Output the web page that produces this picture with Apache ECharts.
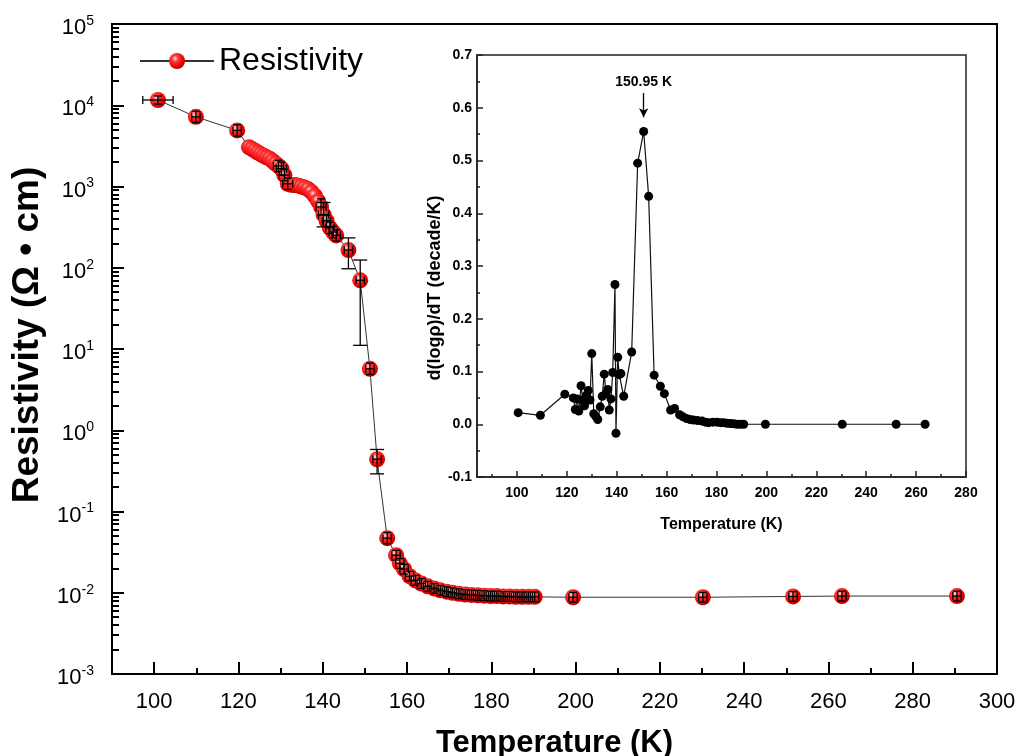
<!DOCTYPE html>
<html><head><meta charset="utf-8">
<script src="https://cdn.jsdelivr.net/npm/echarts@6/dist/echarts.min.js"></script>
<style>html,body{margin:0;padding:0;background:#fff}#c{width:1021px;height:756px}</style>
</head><body><div id="c"></div>
<script>
// ---- main plot data: temperature (K) and resistivity (Ohm cm)
const temps = [100.9, 109.9, 119.7,
  122.5, 123.2, 123.9, 124.6, 125.3, 126.0, 126.7, 127.4, 128.1, 128.8,
  129.5, 130.2, 130.9, 131.7,
  132.5, 133.3, 134.1, 134.9, 135.7, 136.5, 137.3, 138.1, 138.9,
  139.6, 140.2, 140.9, 141.7, 142.5, 143.2,
  146.1, 148.9, 151.2, 152.9, 155.3,
  157.4, 158.3, 159.3, 160.6, 162.0, 163.4, 164.9, 166.4, 167.9, 169.4, 170.8, 172.3,
  173.8, 175.3, 176.8, 178.3, 179.8, 181.3, 182.8, 184.3, 185.8, 187.3, 188.8, 190.3,
  199.4, 230.2, 251.6, 263.2, 290.5];
const rho = [11600, 7200, 4900,
  3050, 2900, 2760, 2620, 2500, 2390, 2290, 2200, 2060, 1920,
  1790, 1660, 1380, 1080,
  1050, 1040, 1030, 1000, 970, 930, 860, 770, 660,
  560, 450, 380, 310, 275, 250,
  165, 70, 5.7, 0.44, 0.047,
  0.029, 0.023, 0.0195, 0.0160, 0.0142, 0.0130, 0.0120, 0.0113, 0.0107, 0.0103, 0.0100, 0.0097,
  0.0095, 0.0094, 0.0093, 0.0092, 0.0091, 0.0091, 0.0090, 0.0090, 0.0089, 0.0089, 0.0089, 0.0089,
  0.0088, 0.0088, 0.0090, 0.0091, 0.0091];
// error bars: temperature error (K), lower / upper error in decades
const tErr = [3.6, 1.0, 1.0,
  0, 0, 0, 0, 0, 0, 0, 0, 0, 0,
  1.2, 1.2, 1.2, 1.2,
  0, 0, 0, 0, 0, 0, 0, 0, 0,
  1.2, 1.2, 1.0, 1.0, 1.0, 1.0,
  1.0, 1.0, 1.0, 1.0, 1.0,
  1.0, 1.0, 1.0, 1.0, 1.0, 1.0, 1.0, 1.0, 1.0, 1.0, 1.0, 1.0,
  1.0, 1.0, 1.0, 1.0, 1.0, 1.0, 1.0, 1.0, 1.0, 1.0, 1.0, 1.0,
  1.0, 1.0, 1.0, 1.0, 1.0];
const errLoDec = [0.05, 0.07, 0.07,
  0, 0, 0, 0, 0, 0, 0, 0, 0, 0,
  0.07, 0.08, 0.07, 0.07,
  0, 0, 0, 0, 0, 0, 0, 0, 0,
  0.10, 0.15, 0.07, 0.07, 0.07, 0.07,
  0.23, 0.80, 0.07, 0.18, 0.07,
  0.06, 0.06, 0.06, 0.06, 0.06, 0.06, 0.06, 0.06, 0.06, 0.06, 0.06, 0.06,
  0.06, 0.06, 0.06, 0.06, 0.06, 0.06, 0.06, 0.06, 0.06, 0.06, 0.06, 0.06,
  0.06, 0.06, 0.06, 0.06, 0.06];
const errHiDec = [0.05, 0.07, 0.07,
  0, 0, 0, 0, 0, 0, 0, 0, 0, 0,
  0.07, 0.08, 0.07, 0.07,
  0, 0, 0, 0, 0, 0, 0, 0, 0,
  0.10, 0.15, 0.07, 0.07, 0.07, 0.07,
  0.15, 0.25, 0.07, 0.12, 0.07,
  0.06, 0.06, 0.06, 0.06, 0.06, 0.06, 0.06, 0.06, 0.06, 0.06, 0.06, 0.06,
  0.06, 0.06, 0.06, 0.06, 0.06, 0.06, 0.06, 0.06, 0.06, 0.06, 0.06, 0.06,
  0.06, 0.06, 0.06, 0.06, 0.06];

// ---- inset data: temperature (K) and d(log rho)/dT (decade/K)
const insetT = [100.5, 109.4, 119.2, 122.6, 123.4, 124.1, 124.8, 125.7, 126.4, 127.1, 127.8, 128.6,
  129.3, 130.0, 130.8, 131.6, 132.4, 133.4, 134.2, 135.0, 135.7, 136.4, 137.0, 137.7, 138.4,
  139.3, 139.7, 140.4, 141.0, 141.7, 142.8, 146.0, 148.4, 150.8, 152.8, 155.0, 157.5, 159.1,
  161.6, 163.2, 165.2, 166.6, 168.0, 169.4, 170.7, 172.4, 174.2, 175.6, 176.8, 178.5, 180.2,
  181.6, 182.9, 184.2, 185.6, 187.0, 188.3, 189.6, 190.9, 199.6, 230.4, 252.0, 263.6];
const insetD = [0.022, 0.017, 0.057, 0.050, 0.028, 0.048, 0.025, 0.073, 0.046, 0.035, 0.055, 0.064,
  0.046, 0.134, 0.020, 0.015, 0.009, 0.033, 0.053, 0.095, 0.058, 0.066, 0.027, 0.048, 0.098,
  0.265, -0.017, 0.127, 0.094, 0.096, 0.053, 0.137, 0.495, 0.555, 0.432, 0.093, 0.072, 0.058,
  0.027, 0.030, 0.018, 0.014, 0.011, 0.009, 0.008, 0.007, 0.006, 0.004, 0.003, 0.004, 0.004,
  0.003, 0.003, 0.002, 0.0015, 0.001, 0.0, 0.0, 0.0, 0.0, 0.0, 0.0, 0.0];
const peakLabel = '150.95 K';

// ---- tick values
const mainXMajor = [100, 120, 140, 160, 180, 200, 220, 240, 260, 280, 300];
const mainXMinor = [110, 130, 150, 170, 190, 210, 230, 250, 270, 290];
const mainYExp = [-3, -2, -1, 0, 1, 2, 3, 4, 5];
const insetXMajor = [100, 120, 140, 160, 180, 200, 220, 240, 260, 280];
const insetXMinor = [90, 110, 130, 150, 170, 190, 210, 230, 250, 270];

const FONT = 'Liberation Sans, Arial, Helvetica, sans-serif';
const mainYMinor = [];
for (let n = -3; n < 5; n++) for (let k = 2; k <= 9; k++) mainYMinor.push(n + Math.log10(k));

const mainData = temps.map((t, i) => [t, Math.log10(rho[i])]);
const errData = temps.map((t, i) => [t, Math.log10(rho[i]), tErr[i], errLoDec[i], errHiDec[i]]);
const insetData = insetT.map((t, i) => [t, insetD[i]]);
let pk = 0; insetD.forEach((v, i) => { if (v > insetD[pk]) pk = i; });

function renderErr(params, api) {
  const x = api.value(0), y = api.value(1), te = api.value(2), lo = api.value(3), hi = api.value(4);
  const st = { stroke: '#000', lineWidth: 1.3 };
  const ch = [];
  const cap = 4;
  if (te > 0) {
    const a = api.coord([x - te, y]), b = api.coord([x + te, y]);
    ch.push({ type: 'line', shape: { x1: a[0], y1: a[1], x2: b[0], y2: b[1] }, style: st });
    ch.push({ type: 'line', shape: { x1: a[0], y1: a[1] - cap, x2: a[0], y2: a[1] + cap }, style: st });
    ch.push({ type: 'line', shape: { x1: b[0], y1: b[1] - cap, x2: b[0], y2: b[1] + cap }, style: st });
  }
  if (lo > 0 || hi > 0) {
    const a = api.coord([x, y - lo]), b = api.coord([x, y + hi]);
    const c2 = (lo > 0.12 || hi > 0.12) ? 7 : cap;
    ch.push({ type: 'line', shape: { x1: a[0], y1: a[1], x2: b[0], y2: b[1] }, style: st });
    ch.push({ type: 'line', shape: { x1: a[0] - c2, y1: a[1], x2: a[0] + c2, y2: a[1] }, style: st });
    ch.push({ type: 'line', shape: { x1: b[0] - c2, y1: b[1], x2: b[0] + c2, y2: b[1] }, style: st });
  }
  return { type: 'group', children: ch };
}

const sphere = {
  type: 'radial', x: 0.38, y: 0.35, r: 0.7,
  colorStops: [{ offset: 0, color: '#ffe6e6' }, { offset: 0.28, color: '#ff3b3b' }, { offset: 0.75, color: '#e60000' }, { offset: 1, color: '#b00000' }]
};

const chart = echarts.init(document.getElementById('c'), null, { renderer: 'canvas' });
chart.setOption({
  animation: false,
  backgroundColor: '#fff',
  textStyle: { fontFamily: FONT, color: '#000' },
  legend: {
    left: 134, top: 40, itemWidth: 74, itemHeight: 20, itemGap: 8,
    data: ['Resistivity'],
    textStyle: { fontSize: 32, color: '#000', fontFamily: FONT }
  },
  grid: [
    { left: 112, top: 24, width: 885, height: 650, show: true, borderColor: '#000', borderWidth: 2,
      backgroundColor: 'transparent', containLabel: false, outerBoundsMode: 'none' },
    { left: 477, top: 55, width: 489, height: 422, show: true, borderColor: '#222', borderWidth: 1.5,
      backgroundColor: '#fff', containLabel: false, outerBoundsMode: 'none' }
  ],
  xAxis: [
    { gridIndex: 0, type: 'value', min: 90, max: 300,
      name: 'Temperature (K)', nameLocation: 'middle', nameGap: 54,
      nameTextStyle: { fontSize: 31, fontWeight: 'bold', color: '#000', fontFamily: FONT },
      axisLine: { show: true, onZero: false, lineStyle: { color: '#000', width: 2 } },
      axisTick: { show: true, inside: true, length: 12, customValues: mainXMajor, lineStyle: { color: '#000', width: 2 } },
      axisLabel: { show: true, customValues: mainXMajor, margin: 17, fontSize: 22, color: '#000', fontFamily: FONT },
      splitLine: { show: false } },
    { gridIndex: 0, type: 'value', min: 90, max: 300, position: 'bottom',
      axisLine: { show: false, onZero: false },
      axisTick: { show: true, inside: true, length: 6, customValues: mainXMinor, lineStyle: { color: '#000', width: 2 } },
      axisLabel: { show: false }, splitLine: { show: false } },
    { gridIndex: 1, type: 'value', min: 84, max: 280,
      name: 'Temperature (K)', nameLocation: 'middle', nameGap: 40,
      nameTextStyle: { fontSize: 16, fontWeight: 'bold', color: '#000', fontFamily: FONT },
      axisLine: { show: true, onZero: false, lineStyle: { color: '#222', width: 1.5 } },
      axisTick: { show: true, inside: true, length: 6, customValues: insetXMajor, lineStyle: { color: '#222', width: 1.5 } },
      axisLabel: { show: true, customValues: insetXMajor, margin: 9, fontSize: 14, fontWeight: 'bold', color: '#000', fontFamily: FONT },
      splitLine: { show: false } },
    { gridIndex: 1, type: 'value', min: 84, max: 280, position: 'bottom',
      axisLine: { show: false, onZero: false },
      axisTick: { show: true, inside: true, length: 3, customValues: insetXMinor, lineStyle: { color: '#222', width: 1.5 } },
      axisLabel: { show: false }, splitLine: { show: false } }
  ],
  yAxis: [
    { gridIndex: 0, type: 'value', min: -3, max: 5, interval: 1,
      name: 'Resistivity (Ω • cm)', nameLocation: 'middle', nameGap: 63,
      nameTextStyle: { fontSize: 37, fontWeight: 'bold', color: '#000', fontFamily: FONT, padding: [0, 0, 0, 28] },
      axisLine: { show: true, onZero: false, lineStyle: { color: '#000', width: 2 } },
      axisTick: { show: true, inside: true, length: 12, customValues: mainYExp, lineStyle: { color: '#000', width: 2 } },
      axisLabel: { show: true, customValues: mainYExp, margin: 18, padding: [8, 0, 0, 0],
        formatter: v => '{b|10}{s|' + Math.round(v) + '}',
        rich: { b: { fontSize: 22, lineHeight: 28, color: '#000', fontFamily: FONT },
                s: { fontSize: 14, lineHeight: 14, verticalAlign: 'top', color: '#000', fontFamily: FONT } } },
      splitLine: { show: false } },
    { gridIndex: 0, type: 'value', min: -3, max: 5, position: 'left',
      axisLine: { show: false, onZero: false },
      axisTick: { show: true, inside: true, length: 7, customValues: mainYMinor, lineStyle: { color: '#000', width: 2 } },
      axisLabel: { show: false }, splitLine: { show: false } },
    { gridIndex: 1, type: 'value', min: -0.1, max: 0.7, interval: 0.1,
      name: 'd(logρ)/dT (decade/K)', nameLocation: 'middle', nameGap: 29,
      nameTextStyle: { fontSize: 18, fontWeight: 'bold', color: '#000', fontFamily: FONT, padding: [0, 44, 0, 0] },
      axisLine: { show: true, onZero: false, lineStyle: { color: '#222', width: 1.5 } },
      axisTick: { show: true, inside: true, length: 6, lineStyle: { color: '#222', width: 1.5 } },
      minorTick: { show: true, splitNumber: 2, length: 3, lineStyle: { color: '#222', width: 1.5 } },
      axisLabel: { show: true, margin: 5, fontSize: 14, fontWeight: 'bold', color: '#000', fontFamily: FONT,
        formatter: v => v.toFixed(1) },
      splitLine: { show: false } }
  ],
  series: [
    { name: 'Resistivity', type: 'line', xAxisIndex: 0, yAxisIndex: 0, data: mainData,
      symbol: 'circle', symbolSize: 16, showAllSymbol: true, z: 3,
      itemStyle: { color: sphere, borderWidth: 0 },
      lineStyle: { color: '#333', width: 1 } },
    { name: 'err', type: 'custom', xAxisIndex: 0, yAxisIndex: 0, data: errData,
      renderItem: renderErr, z: 4, silent: true },
    { name: 'deriv', type: 'line', xAxisIndex: 2, yAxisIndex: 2, data: insetData,
      symbol: 'circle', symbolSize: 9, showAllSymbol: true, z: 3,
      itemStyle: { color: '#000' }, lineStyle: { color: '#111', width: 1.2 },
      markLine: { silent: true, symbol: ['none', 'arrow'], symbolSize: [7, 9], animation: false,
        lineStyle: { color: '#000', width: 1.3, type: 'solid' },
        label: { show: true, position: 'start', distance: 4, formatter: peakLabel, fontSize: 14, fontWeight: 'bold', color: '#000', fontFamily: FONT },
        data: [[{ coord: [insetT[pk], 0.628] }, { coord: [insetT[pk], 0.582] }]] } }
  ]
});
</script></body></html>
